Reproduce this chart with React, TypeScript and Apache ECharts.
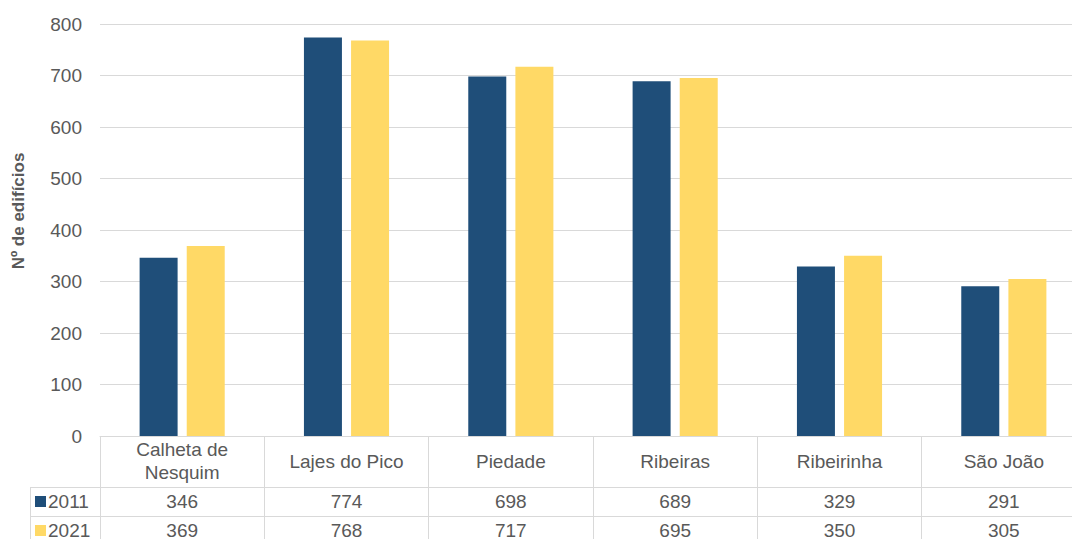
import React, { useEffect, useRef } from "react";
import * as echarts from "echarts";

const categories = ["Calheta de\nNesquim", "Lajes do Pico", "Piedade", "Ribeiras", "Ribeirinha", "São João"];
const seriesNames = ["2011", "2021"];
const values2011 = [346, 774, 698, 689, 329, 291];
const values2021 = [369, 768, 717, 695, 350, 305];
const colors = ["#1F4E79", "#FFD966"];
const yAxisTitle = "Nº de edifícios";

const FONT = "Liberation Sans, Arial, sans-serif";
const TEXT = "#595959";
const LINE = "#D9D9D9";

export default function App() {
  const ref = useRef<HTMLDivElement>(null);

  useEffect(() => {
    if (!ref.current) return;
    const chart = echarts.init(ref.current, undefined, { renderer: "svg" });
    const W = 1090;
    const H = 539;
    const gridLeft = 100;
    const gridTop = 24;
    const gridBottom = 103;
    const gridRight = 4;
    const axisY = H - gridBottom;
    const rowH = [51, 29, 29];

    chart.setOption({
      animation: false,
      textStyle: { fontFamily: FONT },
      grid: {
        left: gridLeft,
        right: gridRight,
        top: gridTop,
        bottom: gridBottom,
        containLabel: false,
        outerBoundsMode: "none",
      },
      xAxis: {
        type: "category",
        data: categories,
        axisLine: { show: true, lineStyle: { color: LINE, width: 1 } },
        axisTick: { show: true, length: rowH[0] + rowH[1] + rowH[2] + 10, lineStyle: { color: LINE } },
        axisLabel: {
          interval: 0,
          color: TEXT,
          fontSize: 19,
          lineHeight: 23,
          margin: 25,
          verticalAlign: "middle",
          fontFamily: FONT,
        },
      },
      yAxis: {
        type: "value",
        min: 0,
        max: 800,
        interval: 100,
        axisLine: { show: false },
        axisTick: { show: false },
        axisLabel: { color: TEXT, fontSize: 19, margin: 18, fontFamily: FONT },
        splitLine: { lineStyle: { color: LINE, width: 1 } },
      },
      series: [
        {
          name: seriesNames[0],
          type: "bar",
          data: values2011,
          barWidth: 38,
          barGap: "24%",
          itemStyle: { color: colors[0] },
        },
        {
          name: seriesNames[1],
          type: "bar",
          data: values2021,
          barWidth: 38,
          itemStyle: { color: colors[1] },
        },
      ],
    });

    // Data table under the axis, aligned with the category centres
    const centers = categories.map((c) => chart.convertToPixel({ xAxisIndex: 0 }, c) as number);
    const rows = [values2011, values2021];
    const graphics: any[] = [];
    const legendLeft = 30;

    // Vertical axis title
    graphics.push({
      type: "text",
      x: 18,
      y: 211,
      rotation: Math.PI / 2,
      style: {
        text: yAxisTitle,
        fill: TEXT,
        font: `bold 17px ${FONT}`,
        align: "center",
        verticalAlign: "middle",
      },
      silent: true,
    });

    let y = axisY + rowH[0];
    rows.forEach((vals, r) => {
      const h = rowH[r + 1];
      graphics.push({
        type: "line",
        shape: { x1: legendLeft, y1: y + 0.5, x2: W, y2: y + 0.5 },
        style: { stroke: LINE, lineWidth: 1 },
        silent: true,
      });
      const cy = y + h / 2;
      graphics.push({
        type: "rect",
        shape: { x: 35, y: cy - 5.5, width: 11, height: 11 },
        style: { fill: colors[r] },
        silent: true,
      });
      graphics.push({
        type: "text",
        x: 48,
        y: cy,
        style: {
          text: seriesNames[r],
          fill: TEXT,
          font: `19px ${FONT}`,
          verticalAlign: "middle",
          align: "left",
        },
        silent: true,
      });
      vals.forEach((v, i) => {
        graphics.push({
          type: "text",
          x: centers[i],
          y: cy,
          style: {
            text: String(v),
            fill: TEXT,
            font: `19px ${FONT}`,
            verticalAlign: "middle",
            align: "center",
          },
          silent: true,
        });
      });
      y += h;
    });
    graphics.push({
      type: "line",
      shape: { x1: legendLeft + 0.5, y1: axisY + rowH[0], x2: legendLeft + 0.5, y2: H + 10 },
      style: { stroke: LINE, lineWidth: 1 },
      silent: true,
    });
    chart.setOption({ graphic: graphics });

    return () => chart.dispose();
  }, []);

  return (
    <div style={{ position: "fixed", left: 0, top: 0, width: 1072, height: 539, overflow: "hidden", background: "#fff" }}>
      <div ref={ref} style={{ width: 1090, height: 539 }} />
    </div>
  );
}
